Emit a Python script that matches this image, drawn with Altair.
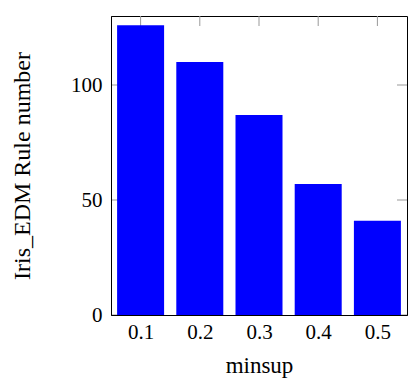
import altair as alt
import pandas as pd

minsup = [0.1, 0.2, 0.3, 0.4, 0.5]
rules = [126, 110, 87, 57, 41]
y_ticks = [0, 50, 100]

W, H = 296, 299
FONT = "Liberation Serif"

df = pd.DataFrame({"minsup": minsup, "rules": rules})
xt = pd.DataFrame({"minsup": minsup})
yt = pd.DataFrame({"rules": y_ticks})

xs = alt.Scale(domain=[0.05, 0.55], nice=False, zero=False, padding=0)
ys = alt.Scale(domain=[0, 130], nice=False, padding=0)

x_axis = alt.Axis(values=minsup, format=".1f", title="minsup", grid=False, ticks=False,
                  domain=True, domainColor="black", domainWidth=1, zindex=1,
                  labelFont=FONT, labelFontSize=21, labelColor="black", labelPadding=6,
                  titleFont=FONT, titleFontSize=23, titleFontWeight="normal", titleColor="black",
                  titleX=W / 2, titleY=57, titleBaseline="alphabetic", titleAlign="center")
y_axis = alt.Axis(values=y_ticks, title="Iris_EDM Rule number", grid=False, ticks=False,
                  domain=True, domainColor="black", domainWidth=1, zindex=1,
                  labelFont=FONT, labelFontSize=21, labelColor="black", labelPadding=9,
                  titleFont=FONT, titleFontSize=24, titleFontWeight="normal", titleColor="black",
                  titleX=-89, titleY=H / 2, titleAngle=270, titleBaseline="middle", titleAlign="center")

x_enc = alt.X("minsup:Q", scale=xs, axis=x_axis)
y_enc = alt.Y("rules:Q", scale=ys, axis=y_axis)

TC = "#999999"
top_ticks = alt.Chart(xt).mark_rule(color=TC, strokeWidth=1).encode(
    x=x_enc, y=alt.value(0), y2=alt.value(10))
bottom_ticks = alt.Chart(xt).mark_rule(color=TC, strokeWidth=1).encode(
    x=x_enc, y=alt.value(H - 10), y2=alt.value(H))
left_ticks = alt.Chart(yt).mark_rule(color=TC, strokeWidth=1).encode(
    y=y_enc, x=alt.value(0), x2=alt.value(10))
right_ticks = alt.Chart(yt).mark_rule(color=TC, strokeWidth=1).encode(
    y=y_enc, x=alt.value(W - 10), x2=alt.value(W))

bars = alt.Chart(df).mark_bar(color="#0000ff", size=47).encode(x=x_enc, y=y_enc)

chart = alt.layer(top_ticks, bottom_ticks, left_ticks, right_ticks, bars).properties(
    width=W, height=H,
    autosize=alt.AutoSizeParams(type="none"),
    padding={"left": 103, "top": 8, "right": 1, "bottom": 63},
).configure_view(stroke="black", strokeWidth=1)

chart.save("out.html", embed_options={"renderer": "svg", "actions": False})
